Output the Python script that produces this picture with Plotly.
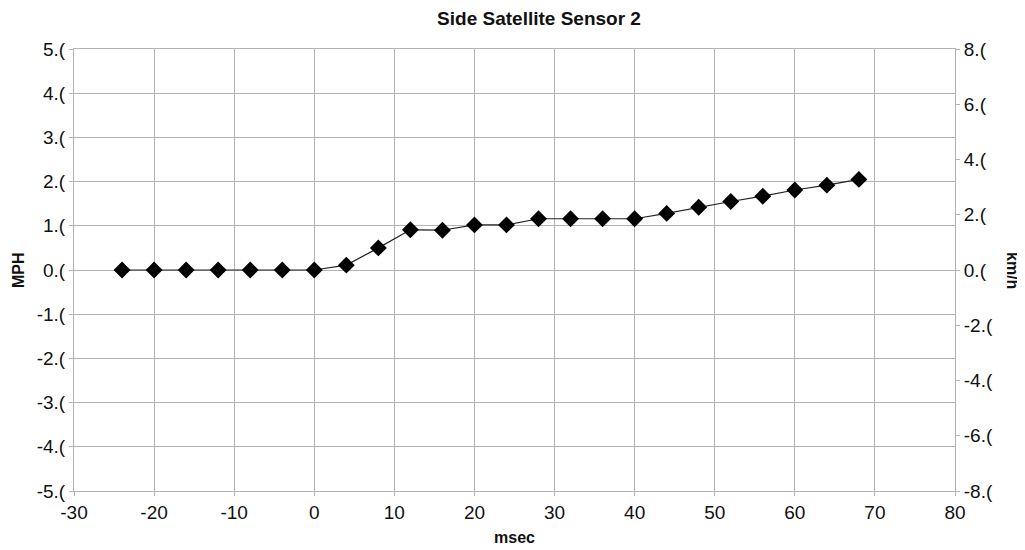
import plotly.graph_objects as go

# Data
msec = [-24, -20, -16, -12, -8, -4, 0, 4, 8, 12, 16, 20, 24, 28, 32, 36, 40, 44, 48, 52, 56, 60, 64, 68]
mph = [0, 0, 0, 0, 0, 0, 0, 0.11, 0.5, 0.91, 0.9, 1.02, 1.02, 1.16, 1.16, 1.16, 1.16,
       1.28, 1.42, 1.55, 1.67, 1.81, 1.92, 2.05]
MPH_TO_KMH = 1.609344

x_ticks = [-30, -20, -10, 0, 10, 20, 30, 40, 50, 60, 70, 80]
x_labels = ["-30", "-20", "-10", "0", "10", "20", "30", "40", "50", "60", "70", "80"]
left_ticks = [5, 4, 3, 2, 1, 0, -1, -2, -3, -4, -5]
left_labels = ["5.(", "4.(", "3.(", "2.(", "1.(", "0.(", "-1.(", "-2.(", "-3.(", "-4.(", "-5.("]
right_ticks = [8, 6, 4, 2, 0, -2, -4, -6, -8]
right_labels = ["8.(", "6.(", "4.(", "2.(", "0.(", "-2.(", "-4.(", "-6.(", "-8.("]

FONT = "Liberation Sans, Arial, sans-serif"
GRID = "#b3b3b3"
TXT = "#111111"

# the page body adds an 8px margin, so the figure is sized to fit the window
W, H = 1017, 542

fig = go.Figure()
fig.add_trace(go.Scatter(
    x=msec, y=mph, mode="lines+markers",
    line=dict(color="#222222", width=1.2),
    marker=dict(symbol="diamond", size=13, color="black"),
    showlegend=False, hoverinfo="x+y",
))
# same series on the km/h scale (invisible) so the right axis is drawn
fig.add_trace(go.Scatter(
    x=msec, y=[v * MPH_TO_KMH for v in mph], yaxis="y2", mode="markers",
    marker=dict(opacity=0), showlegend=False, hoverinfo="skip",
))

fig.update_layout(
    width=W, height=H,
    margin=dict(l=66, r=70, t=41, b=59),
    paper_bgcolor="white", plot_bgcolor="white",
    font=dict(family=FONT, size=16, color=TXT),
    title=dict(text="<b>Side Satellite Sensor 2</b>", x=531/W, xanchor="center",
               y=1 - 10/H, yanchor="middle", font=dict(size=19, color=TXT)),
    xaxis=dict(
        range=[-30, 80], tickmode="array", tickvals=x_ticks, ticktext=x_labels,
        showgrid=True, gridcolor=GRID, gridwidth=1,
        showline=True, linecolor=GRID, linewidth=1, mirror=True,
        ticks="outside", ticklen=4, tickcolor=GRID,
        zeroline=False, tickfont=dict(size=19), automargin=False,
    ),
    yaxis=dict(
        range=[-5, 5], tickmode="array", tickvals=left_ticks, ticktext=left_labels,
        showgrid=True, gridcolor=GRID, gridwidth=1,
        showline=True, linecolor=GRID, linewidth=1, mirror=True,
        ticks="outside", ticklen=4, tickcolor=GRID,
        zeroline=False, tickfont=dict(size=19), automargin=False,
    ),
    yaxis2=dict(
        range=[-8, 8], overlaying="y", side="right", anchor="x",
        tickmode="array", tickvals=right_ticks, ticktext=right_labels,
        showgrid=False, showline=False, zeroline=False,
        ticks="outside", ticklen=4, tickcolor=GRID,
        tickfont=dict(size=19), automargin=False,
    ),
    annotations=[
        dict(text="<b>MPH</b>", xref="paper", yref="paper", x=-56/881, y=0.5,
             xanchor="center", yanchor="middle", textangle=-90, showarrow=False,
             font=dict(size=16, color=TXT)),
        dict(text="<b>km/h</b>", xref="paper", yref="paper", x=1 + 58/881, y=0.5,
             xanchor="center", yanchor="middle", textangle=90, showarrow=False,
             font=dict(size=16, color=TXT)),
        dict(text="<b>msec</b>", xref="paper", yref="paper", x=(514 - 74)/881, y=-46/442,
             xanchor="center", yanchor="middle", showarrow=False,
             font=dict(size=16, color=TXT)),
    ],
)

fig.write_html("out.html")
